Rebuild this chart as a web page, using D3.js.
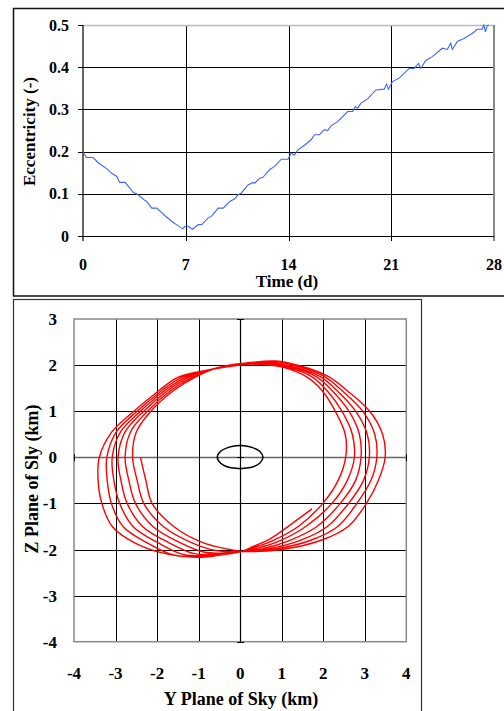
<!DOCTYPE html>
<html>
<head>
<meta charset="utf-8">
<script src="https://cdn.jsdelivr.net/npm/d3@7"></script>
<style>
  body { margin: 0; background: #fff; }
  svg { display: block; font-family: "Liberation Serif", "Times New Roman", serif; font-weight: bold; }
</style>
</head>
<body>
<div id="chart"></div>
<script>
// ---- top panel data: eccentricity vs time ----
const timeDays = [0, 0.23, 0.68, 1.06, 1.63, 1.97, 2.31, 2.49, 2.87, 3.44, 3.71, 4.23, 4.34, 4.68, 5.02, 5.59,
  6.04, 6.27, 6.38, 6.79, 6.95, 7.17, 7.47, 7.85, 8.08, 8.53, 8.76, 9.21, 9.55, 10.0, 10.34, 10.57, 10.79,
  11.24, 11.58, 11.70, 12.04, 12.26, 12.71, 13.05, 13.51, 13.96, 14.19, 14.41, 14.64, 15.09, 15.54, 15.77,
  16.11, 16.45, 16.67, 16.9, 17.35, 18.03, 18.37, 18.55, 18.71, 18.94, 19.39, 19.95, 20.52, 20.68, 20.81,
  21.09, 21.54, 22.22, 22.56, 22.85, 23.01, 23.35, 23.8, 24.48, 24.82, 25.05, 25.16, 25.5, 25.95, 26.52,
  26.86, 27.19, 27.31, 27.42, 27.53, 27.65];
const eccentricity = [0.199, 0.186, 0.186, 0.173, 0.159, 0.148, 0.141, 0.127, 0.127, 0.103, 0.099, 0.084,
  0.082, 0.066, 0.066, 0.048, 0.035, 0.029, 0.027, 0.017, 0.023, 0.023, 0.016, 0.027, 0.027, 0.043, 0.047,
  0.066, 0.066, 0.082, 0.088, 0.098, 0.102, 0.121, 0.127, 0.125, 0.137, 0.139, 0.157, 0.165, 0.182, 0.182,
  0.196, 0.192, 0.204, 0.215, 0.228, 0.240, 0.240, 0.252, 0.250, 0.261, 0.271, 0.295, 0.295, 0.307, 0.303,
  0.315, 0.325, 0.346, 0.348, 0.360, 0.348, 0.366, 0.374, 0.397, 0.397, 0.409, 0.397, 0.416, 0.425, 0.445,
  0.442, 0.457, 0.442, 0.461, 0.468, 0.480, 0.490, 0.490, 0.500, 0.484, 0.498, 0.500];
const timeTicks = [0, 7, 14, 21, 28];
const eccTicks = [0, 0.1, 0.2, 0.3, 0.4, 0.5];

// ---- bottom panel data: plane of sky track (Y, Z in km), one array per revolution ----
const rev1 = [[-2.40, 0], [-2.27, -0.5], [-2.12, -1.0], [-1.60, -1.5], [-0.90, -1.85], [-0.35, -1.98], [0.05, -2.04],
  [1.00, -2.00], [1.95, -1.80], [2.60, -1.50], [3.04, -1.00], [3.33, -0.50], [3.49, 0],
  [3.43, 0.5], [3.12, 1.0], [2.57, 1.45], [2.13, 1.75], [1.50, 1.97], [0.85, 2.09], [0.2, 2.05],
  [-0.47, 1.96], [-1.08, 1.74], [-1.60, 1.45], [-2.15, 1.0], [-2.50, 0.55], [-2.59, 0]];
const rev2 = [[-2.48, -0.5], [-2.32, -1.0], [-1.85, -1.5], [-1.17, -1.85], [-0.60, -2.02], [-0.2, -2.05], [0.05, -2.04],
  [0.85, -1.99], [1.70, -1.80], [2.35, -1.50], [2.81, -1.00], [3.15, -0.50], [3.29, 0],
  [3.24, 0.5], [2.95, 1.0], [2.45, 1.45], [2.03, 1.75], [1.42, 1.96], [0.80, 2.08], [0.2, 2.04],
  [-0.50, 1.95], [-1.15, 1.74], [-1.67, 1.45], [-2.23, 1.0], [-2.64, 0.55], [-2.77, 0]];
const rev3 = [[-2.68, -0.5], [-2.52, -1.0], [-2.10, -1.5], [-1.45, -1.85], [-0.85, -2.06], [-0.3, -2.07], [0.05, -2.04],
  [0.70, -1.98], [1.45, -1.80], [2.10, -1.50], [2.61, -1.00], [2.97, -0.50], [3.11, 0],
  [3.06, 0.5], [2.78, 1.0], [2.33, 1.45], [1.93, 1.75], [1.34, 1.95], [0.75, 2.06], [0.2, 2.04],
  [-0.52, 1.95], [-1.23, 1.74], [-1.74, 1.45], [-2.32, 1.0], [-2.77, 0.55], [-2.94, 0]];
const rev4 = [[-2.87, -0.5], [-2.72, -1.0], [-2.35, -1.5], [-1.72, -1.85], [-1.10, -2.09], [-0.4, -2.09], [0.05, -2.04],
  [0.55, -1.98], [1.20, -1.80], [1.85, -1.50], [2.41, -1.00], [2.78, -0.50], [2.91, 0],
  [2.87, 0.5], [2.62, 1.0], [2.21, 1.45], [1.83, 1.75], [1.25, 1.95], [0.70, 2.05], [0.2, 2.03],
  [-0.55, 1.94], [-1.31, 1.74], [-1.81, 1.45], [-2.40, 1.0], [-2.88, 0.55], [-3.08, 0]];
const rev5 = [[-3.04, -0.5], [-2.90, -1.0], [-2.58, -1.5], [-1.98, -1.85], [-1.35, -2.11], [-0.45, -2.11], [0.05, -2.04],
  [0.42, -1.97], [0.98, -1.80], [1.58, -1.50], [2.21, -1.00], [2.58, -0.50], [2.75, 0],
  [2.70, 0.5], [2.45, 1.0], [2.09, 1.45], [1.72, 1.75], [1.15, 1.95], [0.65, 2.03], [0.2, 2.03],
  [-0.58, 1.93], [-1.40, 1.74], [-1.88, 1.45], [-2.48, 1.0], [-2.98, 0.55], [-3.21, 0]];
const rev6 = [[-3.20, -0.5], [-3.10, -1.0], [-2.82, -1.5], [-2.25, -1.85], [-1.60, -2.12], [-0.9, -2.15], [-0.45, -2.11], [0.05, -2.04],
  [0.30, -1.97], [0.80, -1.80], [1.40, -1.50], [1.99, -1.00], [2.36, -0.50], [2.54, 0],
  [2.53, 0.5], [2.29, 1.0], [1.97, 1.45], [1.61, 1.74], [1.04, 1.95], [0.55, 2.01], [0.2, 2.02],
  [-0.60, 1.92], [-1.49, 1.74], [-1.95, 1.45], [-2.56, 1.0], [-3.09, 0.55], [-3.39, 0]];
const revTail = [[-3.42, -0.5], [-3.33, -1.0], [-3.08, -1.5], [-2.55, -1.85], [-1.85, -2.08], [-1.04, -2.17], [-0.48, -2.12], [0.05, -2.04],
  [0.25, -1.96], [0.70, -1.78], [1.20, -1.47], [1.73, -1.12]];
// outline of the body at the centre
const bodyOutline = [[0.55, 0], [0.47, 0.13], [0.3, 0.21], [0.1, 0.25], [-0.1, 0.25], [-0.3, 0.21], [-0.47, 0.13],
  [-0.55, 0], [-0.47, -0.13], [-0.3, -0.21], [-0.1, -0.24], [0.1, -0.24], [0.3, -0.21], [0.47, -0.13]];
const skyYTicks = [-4, -3, -2, -1, 0, 1, 2, 3, 4];
const skyZTicks = [-4, -3, -2, -1, 0, 1, 2, 3];

const svg = d3.select('#chart').append('svg')
  .attr('width', 504)
  .attr('height', 711);

// frames around the two panels
svg.append('rect')
  .attr('x', 13.5).attr('y', 8.5).attr('width', 520).attr('height', 287.5)
  .attr('fill', 'none').attr('stroke', '#111').attr('stroke-width', 1.5);
svg.append('rect')
  .attr('x', 13.5).attr('y', 299.5).attr('width', 408).attr('height', 430)
  .attr('fill', 'none').attr('stroke', '#333').attr('stroke-width', 1.2);

// ================= top panel =================
const x = d3.scaleLinear().domain([0, 28]).range([83, 494]);
const y = d3.scaleLinear().domain([0, 0.5]).range([236, 25]);
const eccPanel = svg.append('g');

// grid
eccPanel.selectAll('.hgrid')
  .data(eccTicks.filter(d => d > 0 && d < 0.5))
  .enter().append('line')
  .attr('x1', x(0)).attr('x2', x(28))
  .attr('y1', d => Math.round(y(d)) + 0.5).attr('y2', d => Math.round(y(d)) + 0.5)
  .attr('stroke', '#000').attr('stroke-width', 1);
eccPanel.selectAll('.vgrid')
  .data(timeTicks.filter(d => d > 0 && d < 28))
  .enter().append('line')
  .attr('x1', d => Math.round(x(d)) + 0.5).attr('x2', d => Math.round(x(d)) + 0.5)
  .attr('y1', y(0.5)).attr('y2', y(0) + 5)
  .attr('stroke', '#000').attr('stroke-width', 1);

// plot border (top light grey, right grey)
eccPanel.append('line')
  .attr('x1', x(0)).attr('x2', x(28)).attr('y1', y(0.5) + 0.5).attr('y2', y(0.5) + 0.5)
  .attr('stroke', '#bbb').attr('stroke-width', 1.5);
eccPanel.append('line')
  .attr('x1', x(28)).attr('x2', x(28)).attr('y1', y(0.5)).attr('y2', y(0) + 5)
  .attr('stroke', '#888').attr('stroke-width', 2);

// axes
eccPanel.append('line')
  .attr('x1', x(0)).attr('x2', x(0)).attr('y1', y(0.5)).attr('y2', y(0) + 5)
  .attr('stroke', '#000').attr('stroke-width', 1.2);
eccPanel.append('line')
  .attr('x1', x(0)).attr('x2', x(28)).attr('y1', y(0) + 0.5).attr('y2', y(0) + 0.5)
  .attr('stroke', '#000').attr('stroke-width', 1.2);
eccPanel.selectAll('.ytick')
  .data(eccTicks)
  .enter().append('line')
  .attr('x1', x(0) - 5).attr('x2', x(0))
  .attr('y1', d => Math.round(y(d)) + 0.5).attr('y2', d => Math.round(y(d)) + 0.5)
  .attr('stroke', '#000');

// data line
const line = d3.line()
  .x(d => x(d[0]))
  .y(d => y(d[1]));
eccPanel.append('path')
  .datum(d3.zip(timeDays, eccentricity))
  .attr('d', line)
  .attr('fill', 'none')
  .attr('stroke', '#3a66f5')
  .attr('stroke-width', 1.1);

// tick labels
eccPanel.selectAll('.ylab')
  .data(eccTicks)
  .enter().append('text')
  .attr('x', 69).attr('y', d => y(d) + 5.5)
  .attr('text-anchor', 'end')
  .attr('font-size', 16)
  .text(d => String(d));
eccPanel.selectAll('.xlab')
  .data(timeTicks)
  .enter().append('text')
  .attr('x', d => x(d)).attr('y', 269.5)
  .attr('text-anchor', 'middle')
  .attr('font-size', 16)
  .text(d => String(d));

eccPanel.append('text')
  .attr('x', 287).attr('y', 287)
  .attr('text-anchor', 'middle')
  .attr('font-size', 17)
  .text('Time (d)');
eccPanel.append('text')
  .attr('transform', 'translate(34.5,131.5) rotate(-90)')
  .attr('text-anchor', 'middle')
  .attr('font-size', 17)
  .text('Eccentricity (-)');

// ================= bottom panel =================
const sx = d3.scaleLinear().domain([-4, 4]).range([74, 406.3]);
const sy = d3.scaleLinear().domain([-4, 3]).range([641.7, 319]);
const sky = svg.append('g');

sky.selectAll('.vgrid')
  .data(skyYTicks.filter(d => d > -4 && d < 4 && d !== 0))
  .enter().append('line')
  .attr('x1', d => Math.round(sx(d)) + 0.5).attr('x2', d => Math.round(sx(d)) + 0.5)
  .attr('y1', sy(3)).attr('y2', sy(-4))
  .attr('stroke', '#000').attr('stroke-width', 1);
sky.selectAll('.hgrid')
  .data(skyZTicks.filter(d => d > -4 && d < 3 && d !== 0))
  .enter().append('line')
  .attr('x1', sx(-4)).attr('x2', sx(4))
  .attr('y1', d => Math.round(sy(d)) + 0.5).attr('y2', d => Math.round(sy(d)) + 0.5)
  .attr('stroke', '#000').attr('stroke-width', 1);

sky.append('rect')
  .attr('x', sx(-4)).attr('y', sy(3))
  .attr('width', sx(4) - sx(-4)).attr('height', sy(-4) - sy(3))
  .attr('fill', 'none').attr('stroke', '#888').attr('stroke-width', 1.5);

// axes crossing at the origin
sky.append('line')
  .attr('x1', sx(-4)).attr('x2', sx(4))
  .attr('y1', Math.round(sy(0)) + 0.5).attr('y2', Math.round(sy(0)) + 0.5)
  .attr('stroke', '#666').attr('stroke-width', 1.5);
sky.append('line')
  .attr('x1', Math.round(sx(0)) + 0.5).attr('x2', Math.round(sx(0)) + 0.5)
  .attr('y1', sy(3)).attr('y2', sy(-4))
  .attr('stroke', '#000').attr('stroke-width', 1.2);
sky.selectAll('.xtick')
  .data(skyYTicks)
  .enter().append('line')
  .attr('x1', d => Math.round(sx(d)) + 0.5).attr('x2', d => Math.round(sx(d)) + 0.5)
  .attr('y1', sy(0) - 3).attr('y2', sy(0) + 4)
  .attr('stroke', '#000');
sky.selectAll('.ztick')
  .data(skyZTicks)
  .enter().append('line')
  .attr('x1', sx(0) - 3).attr('x2', sx(0) + 4)
  .attr('y1', d => Math.round(sy(d)) + 0.5).attr('y2', d => Math.round(sy(d)) + 0.5)
  .attr('stroke', '#000');

// track (smoothed through the read-off vertices)
const skyLine = d3.line()
  .x(d => sx(d[0]))
  .y(d => sy(d[1]))
  .curve(d3.curveCatmullRom.alpha(0.5));
sky.append('path')
  .datum([].concat(rev1, rev2, rev3, rev4, rev5, rev6, revTail))
  .attr('d', skyLine)
  .attr('fill', 'none')
  .attr('stroke', '#ff0000')
  .attr('stroke-width', 1.4)
  .attr('stroke-linejoin', 'round');

sky.append('path')
  .datum(bodyOutline)
  .attr('d', d3.line().x(d => sx(d[0])).y(d => sy(d[1])).curve(d3.curveCatmullRomClosed))
  .attr('fill', 'none')
  .attr('stroke', '#000')
  .attr('stroke-width', 1.5);

// labels
sky.selectAll('.zlab')
  .data(skyZTicks)
  .enter().append('text')
  .attr('x', 57).attr('y', d => sy(d) + 6)
  .attr('text-anchor', 'end')
  .attr('font-size', 17)
  .text(d => String(d));
sky.selectAll('.ylab')
  .data(skyYTicks)
  .enter().append('text')
  .attr('x', d => sx(d)).attr('y', 678.5)
  .attr('text-anchor', 'middle')
  .attr('font-size', 17)
  .text(d => String(d));

sky.append('text')
  .attr('x', 241).attr('y', 705)
  .attr('text-anchor', 'middle')
  .attr('font-size', 18)
  .text('Y Plane of Sky (km)');
sky.append('text')
  .attr('transform', 'translate(37.5,479) rotate(-90)')
  .attr('text-anchor', 'middle')
  .attr('font-size', 18)
  .text('Z Plane of Sly (km)');
</script>
</body>
</html>
